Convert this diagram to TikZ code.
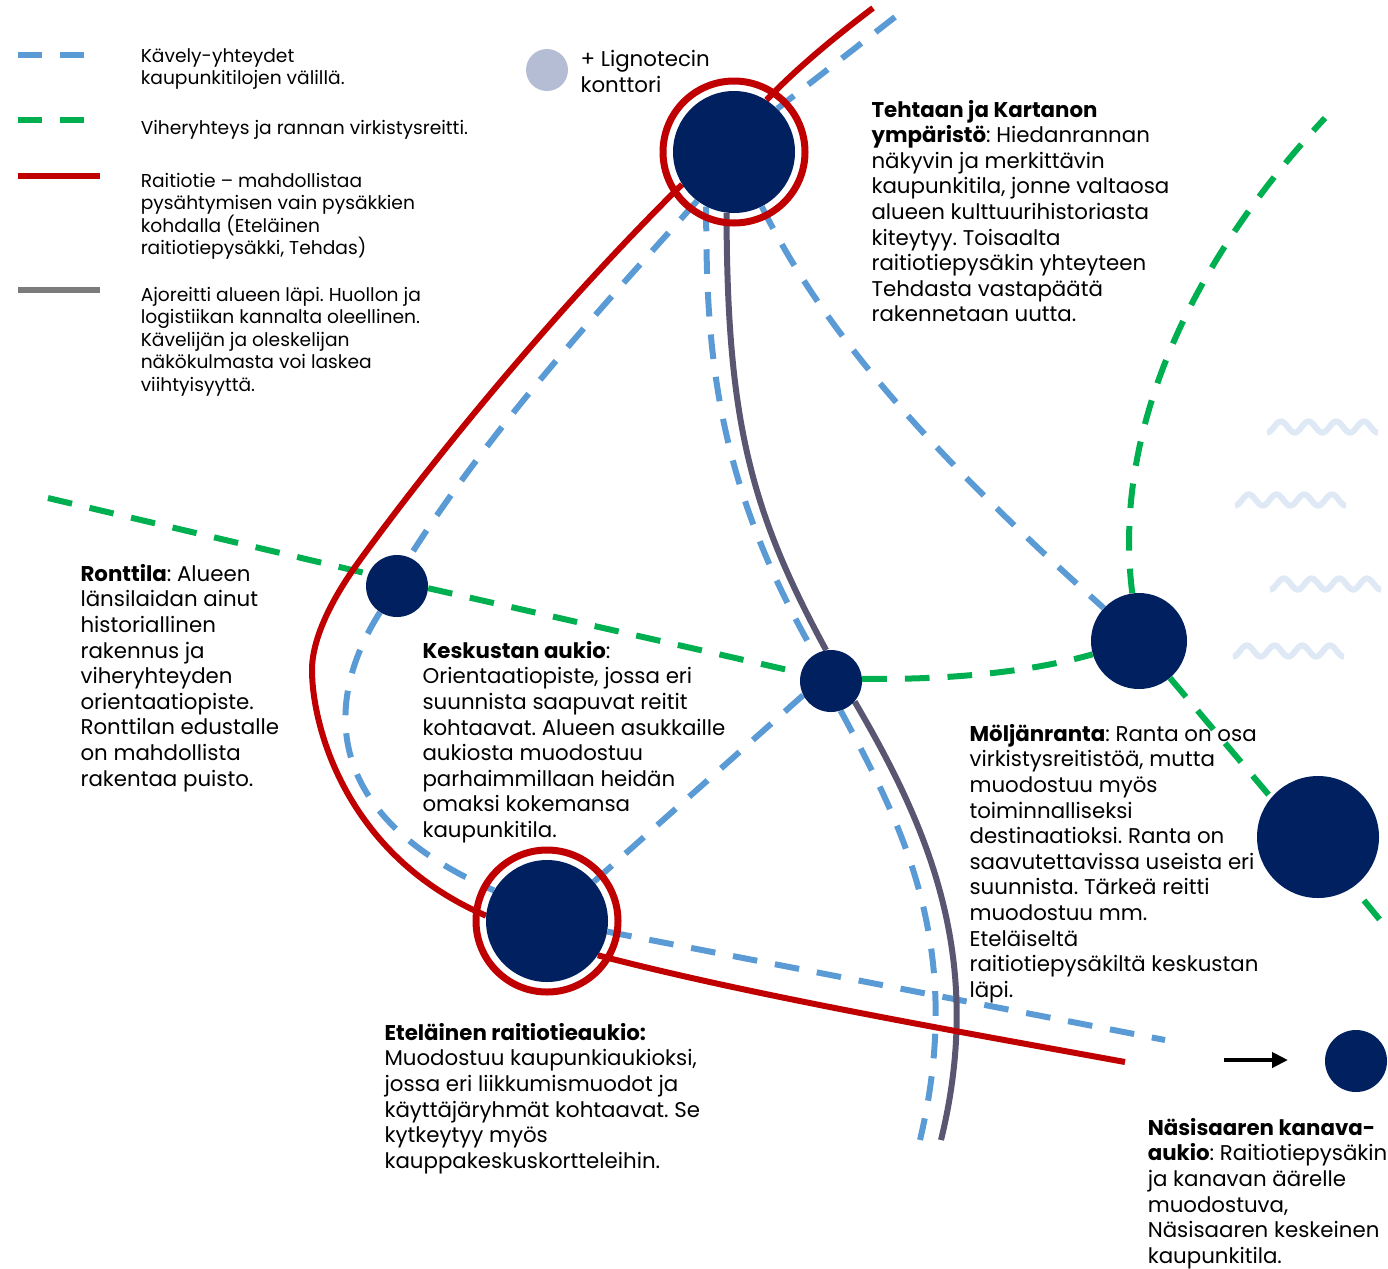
\documentclass[tikz,border=0pt]{standalone}
\usepackage{fontspec}
\setmainfont{Poppins}
\usetikzlibrary{backgrounds,arrows.meta}
\definecolor{navy}{HTML}{002060}
\definecolor{walkc}{HTML}{5B9BD5}
\definecolor{greenc}{HTML}{00B050}
\definecolor{redc}{HTML}{C00000}
\definecolor{greyc}{HTML}{595671}
\definecolor{legc}{HTML}{7B7B7B}
\definecolor{wavec}{HTML}{DEE9F5}
\definecolor{ligc}{HTML}{B4BDD3}
\newcommand{\bodyfont}{\fontsize{16pt}{19.2pt}\selectfont\frenchspacing}
\newcommand{\legfont}{\fontsize{14pt}{16.95pt}\selectfont\frenchspacing}
\tikzset{
  x=0.75pt,y=-0.75pt,
  stop/.style={circle,fill=navy,draw=none,inner sep=0pt,minimum size=#1*0.75pt},
  ringn/.style={circle,draw=redc,line width=5.25pt,fill=none,inner sep=0pt,minimum size=142*0.75pt},
  walk/.style={draw=walkc,line width=4.5pt,dash pattern=on 18.5pt off 13.5pt},
  green/.style={draw=greenc,line width=4.5pt,dash pattern=on 18.5pt off 13.5pt},
  tram/.style={draw=redc,line width=4.5pt},
  drive/.style={draw=greyc,line width=4.5pt},
  legwalk/.style={draw=walkc,line width=4.5pt,dash pattern=on 18pt off 13.5pt},
  leggreen/.style={draw=greenc,line width=4.5pt,dash pattern=on 18pt off 13.5pt},
  legtram/.style={draw=redc,line width=4.5pt},
  legdrive/.style={draw=legc,line width=4.5pt},
  body/.style={anchor=north west,inner sep=0pt,align=left,font=\bodyfont},
  legtext/.style={anchor=north west,inner sep=0pt,align=left,font=\legfont},
  wavy/.pic={\draw[wavec,line width=4.5pt] plot[domain=0:111,samples=90,smooth] (\x,{5.6*cos(\x*13)});}
}
\begin{document}
\begin{tikzpicture}
\useasboundingbox (0,0) rectangle (1388,1268);
% rings and stops
\node[ringn] (tehr) at (734,152) {};
\node[ringn] (eter) at (547,921) {};
\node[stop=122] (teh) at (734,152) {};
\node[stop=122] (ete) at (547,921) {};
\node[stop=62] (ron) at (397,586) {};
\node[stop=62] (kes) at (831,681) {};
\node[stop=96] (mol) at (1139,641) {};
\node[stop=122] (big) at (1318,837) {};
\node[stop=62] (nas) at (1356,1061) {};
\node[circle,fill=ligc,inner sep=0pt,minimum size=42*0.75pt] (lig) at (547,70) {};
% free ends
\coordinate (rt) at (873,8);
\coordinate (re) at (1125,1062);
\coordinate (rk) at (360,560);
\coordinate (rm) at (312,670);
\coordinate (bt) at (895,17);
\coordinate (bs) at (920,1140);
\coordinate (be) at (1165,1040);
\coordinate (gs) at (48,498);
\coordinate (gn) at (1325,118);
\coordinate (ge) at (1380,920);
\coordinate (ds) at (941,1140);
\coordinate (aa) at (1224,1060);
\coordinate (ab) at (1288,1060);
\begin{scope}[on background layer]
  % walking
  \draw[walk] (bt) -- (teh.45);
  \draw[walk] (teh.233) .. controls (590,320) and (490,430) .. (ron.67);
  \draw[walk] (ron.237) .. controls (318,710) and (330,820) .. (ete.150);
  \draw[walk] (teh.243) .. controls (706,350) and (715,480) .. (kes.121);
  \draw[walk] (kes.288) .. controls (905,830) and (965,950) .. (bs);
  \draw[walk] (teh.297) .. controls (830,345) and (950,470) .. (mol.137);
  \draw[walk] (kes.207) -- (ete.40);
  \draw[walk] (ete.350) -- (be);
  % green
  \draw[green] (gs) -- (ron.157);
  \draw[green] (ron.356) -- (kes.165);
  \draw[green] (kes.4) .. controls (950,680) and (1030,672) .. (mol.196);
  \draw[green] (mol.98) .. controls (1115,460) and (1165,290) .. (gn);
  \draw[green] (mol.310) -- (big.140);
  \draw[green,dash phase=19.25pt] (big.305) -- (ge);
  % drive
  \draw[drive] (teh.263) .. controls (727,420) and (750,510) .. (kes.99);
  \draw[drive] (kes.319) .. controls (930,830) and (985,960) .. (ds);
  % tram
  \draw[tram] (rt) .. controls (840,33) and (800,65) .. (teh.58);
  \draw[tram] (teh.212) .. controls (560,305) and (440,450) .. (rk) .. controls (330,601) and (312,640) .. (rm) .. controls (312,725) and (345,855) .. (ete.175);
  \draw[tram] (ete.326) .. controls (750,995) and (950,1030) .. (re);
\end{scope}
\draw[-{Triangle[length=12pt,width=11.25pt]},line width=3.5pt,black] (aa) -- (ab);
% waves
\pic at (1267,427) {wavy};
\pic at (1235,500) {wavy};
\pic at (1270,584) {wavy};
\pic at (1233,651) {wavy};
% legend
\coordinate (l1a) at (18,55); \coordinate (l1b) at (85,55);
\coordinate (l2a) at (18,120); \coordinate (l2b) at (85,120);
\coordinate (l3a) at (18,176); \coordinate (l3b) at (100,176);
\coordinate (l4a) at (18,290); \coordinate (l4b) at (100,290);
\draw[legwalk] (l1a) -- (l1b);
\draw[leggreen] (l2a) -- (l2b);
\draw[legtram] (l3a) -- (l3b);
\draw[legdrive] (l4a) -- (l4b);
\node[legtext] (t1) at (140.5,46) {\strut Kävely-yhteydet\\kaupunkitilojen välillä.};
\node[legtext] (t2) at (140.5,118) {\strut Viheryhteys ja rannan virkistysreitti.};
\node[legtext] (t3) at (140.5,171) {\strut Raitiotie – mahdollistaa\\pysähtymisen vain pysäkkien\\kohdalla (Eteläinen\\raitiotiepysäkki, Tehdas)};
\node[legtext] (t4) at (140.5,285) {\strut Ajoreitti alueen läpi. Huollon ja\\logistiikan kannalta oleellinen.\\Kävelijän ja oleskelijan\\näkökulmasta voi laskea\\viihtyisyyttä.};
% labels
\node[body] (tl) at (580.3,48.5) {\strut + Lignotecin\\konttori};
\node[body] (tt) at (871.3,99) {\strut\textbf{Tehtaan ja Kartanon}\\\textbf{ympäristö}: Hiedanrannan\\näkyvin ja merkittävin\\kaupunkitila, jonne valtaosa\\alueen kulttuurihistoriasta\\kiteytyy. Toisaalta\\raitiotiepysäkin yhteyteen\\Tehdasta vastapäätä\\rakennetaan uutta.};
\node[body] (tr) at (80.3,563) {\strut\textbf{Ronttila}: Alueen\\länsilaidan ainut\\historiallinen\\rakennus ja\\viheryhteyden\\orientaatiopiste.\\Ronttilan edustalle\\on mahdollista\\rakentaa puisto.};
\node[body] (tk) at (422.3,640) {\strut\textbf{Keskustan aukio}:\\Orientaatiopiste, jossa eri\\suunnista saapuvat reitit\\kohtaavat. Alueen asukkaille\\aukiosta muodostuu\\parhaimmillaan heidän\\omaksi kokemansa\\kaupunkitila.};
\node[body] (tm) at (969.3,723) {\strut\textbf{Möljänranta}: Ranta on osa\\virkistysreitistöä, mutta\\muodostuu myös\\toiminnalliseksi\\destinaatioksi. Ranta on\\saavutettavissa useista eri\\suunnista. Tärkeä reitti\\muodostuu mm.\\Eteläiseltä\\raitiotiepysäkiltä keskustan\\läpi.};
\node[body] (te) at (384.3,1022) {\strut\textbf{Eteläinen raitiotieaukio:}\\Muodostuu kaupunkiaukioksi,\\jossa eri liikkumismuodot ja\\käyttäjäryhmät kohtaavat. Se\\kytkeytyy myös\\kauppakeskuskortteleihin.};
\node[body] (tn) at (1147.5,1117) {\strut\textbf{Näsisaaren kanava-}\\\textbf{aukio}: Raitiotiepysäkin\\ja kanavan äärelle\\muodostuva,\\Näsisaaren keskeinen\\kaupunkitila.};
\end{tikzpicture}
\end{document}
